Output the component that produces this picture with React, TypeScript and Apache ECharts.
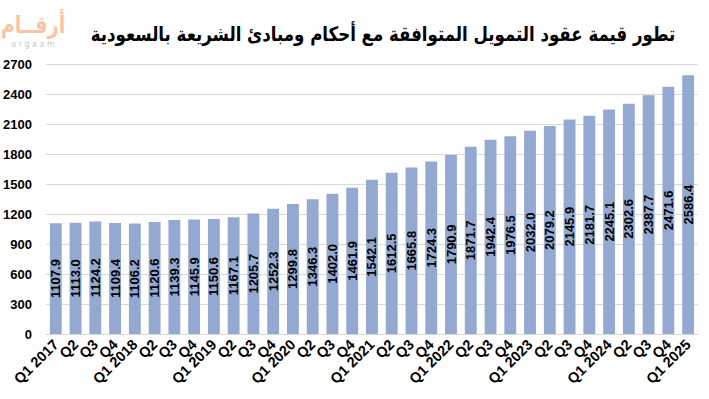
import React, { useEffect, useRef } from "react";
import * as echarts from "echarts";

const categories = [
  "Q1 2017", "Q2", "Q3", "Q4",
  "Q1 2018", "Q2", "Q3", "Q4",
  "Q1 2019", "Q2", "Q3", "Q4",
  "Q1 2020", "Q2", "Q3", "Q4",
  "Q1 2021", "Q2", "Q3", "Q4",
  "Q1 2022", "Q2", "Q3", "Q4",
  "Q1 2023", "Q2", "Q3", "Q4",
  "Q1 2024", "Q2", "Q3", "Q4",
  "Q1 2025",
];

const values = [
  1107.9, 1113.0, 1124.2, 1109.4,
  1106.2, 1120.6, 1139.3, 1145.9,
  1150.6, 1167.1, 1205.7, 1252.3,
  1299.8, 1346.3, 1402.0, 1461.9,
  1542.1, 1612.5, 1665.8, 1724.3,
  1790.9, 1871.7, 1942.4, 1976.5,
  2032.0, 2079.2, 2145.9, 2181.7,
  2245.1, 2302.6, 2387.7, 2471.6,
  2586.4,
];

const titleText = "تطور قيمة عقود التمويل المتوافقة مع أحكام ومبادئ الشريعة بالسعودية";
const logoText = "أرقــام";
const logoSub = "a r g a a m";

export default function App() {
  const ref = useRef<HTMLDivElement>(null);
  useEffect(() => {
    if (!ref.current) return;
    const chart = echarts.init(ref.current, null, { renderer: "svg" });
    chart.setOption({
      animation: false,
      backgroundColor: "#ffffff",
      grid: { left: 45, right: 11, top: 64, bottom: 65, containLabel: false },
      graphic: [
        {
          type: "text",
          x: 383,
          y: 34,
          scaleX: 0.83,
          style: {
            text: titleText,
            font: "bold 20px 'DejaVu Sans'",
            fill: "#000000",
            align: "center",
            verticalAlign: "middle",
          },
        },
        {
          type: "text",
          x: 33,
          y: 25,
          scaleX: 0.8,
          style: {
            text: logoText,
            font: "bold 24px 'DejaVu Sans'",
            fill: "#f7c4a4",
            align: "center",
            verticalAlign: "middle",
          },
        },
        {
          type: "text",
          x: 33,
          y: 44,
          style: {
            text: logoSub,
            font: "8px 'DejaVu Sans'",
            fill: "#c8c8c8",
            align: "center",
            verticalAlign: "middle",
          },
        },
      ],
      xAxis: {
        type: "category",
        data: categories,
        axisTick: { show: false },
        axisLine: { lineStyle: { color: "#d9d9d9" } },
        axisLabel: {
          interval: 0,
          rotate: 45,
          color: "#000000",
          fontWeight: "bold",
          fontSize: 14.5,
          fontFamily: "Liberation Sans",
          margin: 8,
        },
      },
      yAxis: {
        type: "value",
        min: 0,
        max: 2700,
        interval: 300,
        axisLine: { show: false },
        axisTick: { show: false },
        splitLine: { lineStyle: { color: "#d9d9d9", width: 1 } },
        axisLabel: {
          color: "#000000",
          fontWeight: "bold",
          fontSize: 13,
          fontFamily: "Liberation Sans",
          margin: 14,
          formatter: (v: number) => String(v),
        },
      },
      series: [
        {
          type: "bar",
          data: values,
          barCategoryGap: "40%",
          itemStyle: { color: "#94a9d1" },
          label: {
            show: true,
            position: "inside",
            rotate: 90,
            formatter: (p: any) => Number(p.value).toFixed(1),
            color: "#000000",
            fontWeight: "bold",
            fontSize: 13,
            fontFamily: "Liberation Sans",
          },
        },
      ],
    });
    return () => chart.dispose();
  }, []);
  return <div ref={ref} style={{ width: 709, height: 399, position: "absolute", left: 0, top: 0 }} />;
}
